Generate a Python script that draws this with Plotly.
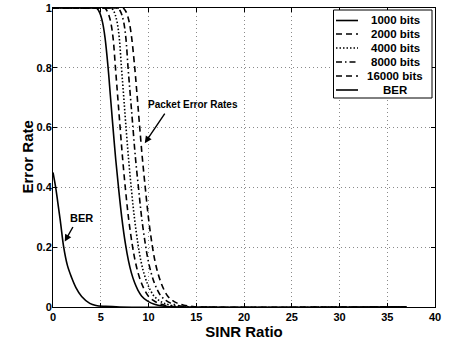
import plotly.graph_objects as go

# ---- data ----
y_per = [1, 1, 1, 0.99, 0.975, 0.95, 0.9, 0.8, 0.71, 0.62, 0.5, 0.39, 0.3, 0.21, 0.155, 0.115, 0.08, 0.056, 0.037, 0.022, 0.013, 0.006, 0.002, 0, 0]

x_1000 = [0, 4.0, 4.55, 4.8, 5.0, 5.2, 5.45, 5.77, 6.0, 6.23, 6.55, 6.89, 7.2, 7.59, 7.9, 8.2, 8.56, 8.9, 9.27, 9.8, 10.3, 11.0, 11.8, 12.5, 37]
y_1000 = y_per
x_2000 = [0, 5.0, 5.42, 5.66, 5.86, 6.06, 6.29, 6.54, 6.76, 6.98, 7.28, 7.6, 7.9, 8.29, 8.6, 8.9, 9.26, 9.6, 9.97, 10.5, 11.0, 11.7, 12.5, 13.2, 37]
y_2000 = y_per
x_4000 = [0, 5.7, 6.12, 6.35, 6.54, 6.73, 6.94, 7.17, 7.39, 7.6, 7.9, 8.22, 8.52, 8.9, 9.2, 9.5, 9.86, 10.2, 10.57, 11.1, 11.6, 12.3, 13.1, 13.8, 37]
y_4000 = y_per
x_8000 = [0, 6.4, 6.81, 7.04, 7.23, 7.42, 7.63, 7.86, 8.09, 8.32, 8.63, 8.98, 9.28, 9.67, 9.97, 10.27, 10.62, 10.95, 11.3, 11.82, 12.32, 13.0, 13.8, 14.4, 37]
y_8000 = y_per
x_16000 = [0, 6.9, 7.34, 7.6, 7.8, 8.0, 8.24, 8.56, 8.8, 9.03, 9.35, 9.69, 9.99, 10.37, 10.67, 10.97, 11.32, 11.65, 12.0, 12.5, 13.0, 13.7, 14.5, 15.1, 37]
y_16000 = y_per

x_ber = [0, 0.28, 0.5, 0.8, 1.12, 1.5, 1.93, 2.4, 3.0, 3.85, 4.5, 5.5, 7.0, 37]
y_ber = [0.45, 0.4, 0.35, 0.28, 0.2, 0.14, 0.1, 0.065, 0.035, 0.012, 0.005, 0.002, 0, 0]

series_names = ["1000 bits", "2000 bits", "4000 bits", "8000 bits", "16000 bits", "BER"]
series_x = [x_1000, x_2000, x_4000, x_8000, x_16000, x_ber]
series_y = [y_1000, y_2000, y_4000, y_8000, y_16000, y_ber]
series_dash = ["solid", "6px,4px", "1.5px,2px", "6px,3px,1.5px,3px", "6px,4px", "solid"]

x_ticks = [0, 5, 10, 15, 20, 25, 30, 35, 40]
y_ticks = [0, 0.2, 0.4, 0.6, 0.8, 1]
y_tick_labels = ["0", "0.2", "0.4", "0.6", "0.8", "1"]

FONT = "Liberation Sans, Arial, sans-serif"

fig = go.Figure()
for nm, xs, ys, ds in zip(series_names, series_x, series_y, series_dash):
    fig.add_trace(go.Scatter(x=xs, y=ys, mode="lines", name=nm, showlegend=False,
                             line=dict(color="black", width=1.6, dash=ds, shape="spline", smoothing=1.0)))

# ---- manual legend (MATLAB-like compact box) ----
L, R, T, B = 53, 20, 8, 36
W, H = 455 - L - R, 343 - T - B
def px(xp):
    return (xp - L) / W
def py(yp):
    return (343 - B - yp) / H

fig.add_shape(type="rect", xref="paper", yref="paper", x0=px(333.5), x1=px(432), y0=py(98), y1=py(10),
              line=dict(color="black", width=1), fillcolor="white", layer="above")
row_y = [20.5, 34, 48, 62, 76, 90]
for nm, ds, ry in zip(series_names, series_dash, row_y):
    fig.add_shape(type="line", xref="paper", yref="paper", x0=px(336), x1=px(358), y0=py(ry), y1=py(ry),
                  line=dict(color="black", width=1.6, dash=ds), layer="above")
    fig.add_annotation(xref="paper", yref="paper", x=px(395), y=py(ry), text=nm, showarrow=False,
                       xanchor="center", yanchor="middle",
                       font=dict(family=FONT, size=11.5, color="black", weight="bold"))

# ---- text annotations with arrows ----
fig.add_annotation(x=14.65, y=0.677, text="Packet Error Rates", showarrow=False,
                   font=dict(family=FONT, size=10, color="black", weight="bold"))
fig.add_annotation(x=9.61, y=0.548, ax=21, ay=-31, text="", showarrow=True,
                   arrowhead=2, arrowsize=1, arrowwidth=1.4, arrowcolor="black")
fig.add_annotation(x=3.0, y=0.298, text="BER", showarrow=False,
                   font=dict(family=FONT, size=11, color="black", weight="bold"))
fig.add_annotation(x=1.23, y=0.219, ax=9, ay=-16, text="", showarrow=True,
                   arrowhead=2, arrowsize=1, arrowwidth=1.4, arrowcolor="black")

# y-axis title placed as rotated text
fig.add_annotation(xref="paper", yref="paper", x=px(27), y=0.5, text="Error Rate", textangle=-90,
                   showarrow=False, xanchor="center", yanchor="middle",
                   font=dict(family=FONT, size=15, color="black", weight="bold"))

axis_common = dict(showline=True, linecolor="black", linewidth=1, mirror="ticks",
                   ticks="inside", ticklen=4, tickcolor="black",
                   showgrid=True, gridcolor="#8a8a8a", griddash="1px,3px", gridwidth=1,
                   zeroline=False,
                   tickfont=dict(family=FONT, size=11, color="black", weight="bold"))

fig.update_xaxes(range=[0, 40], tickvals=x_ticks, ticktext=[str(v) for v in x_ticks],
                 title=dict(text="SINR Ratio", standoff=2,
                            font=dict(family=FONT, size=15, color="black", weight="bold")),
                 **axis_common)
fig.update_yaxes(range=[0, 1], tickvals=y_ticks, ticktext=y_tick_labels, ticklabelstandoff=-2,
                 **axis_common)

fig.update_layout(width=455, height=343, margin=dict(l=L, r=R, t=T, b=B, autoexpand=False),
                  paper_bgcolor="white", plot_bgcolor="white", showlegend=False)

fig.write_html("out.html", config={"displayModeBar": False})
